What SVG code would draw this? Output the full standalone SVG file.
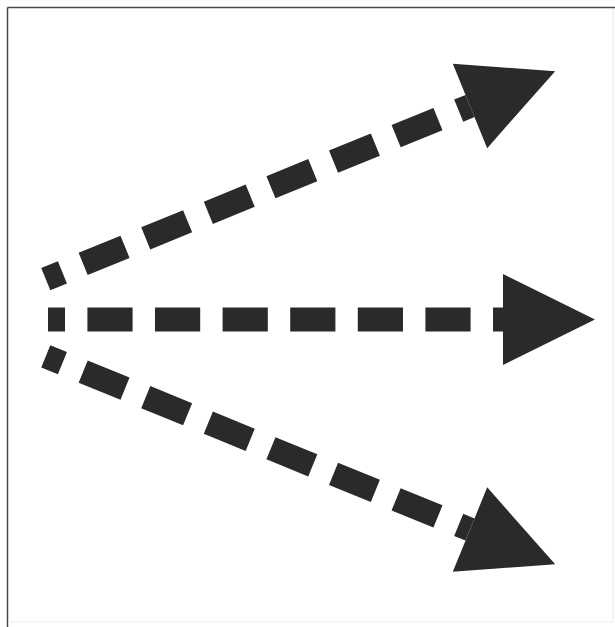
<svg xmlns="http://www.w3.org/2000/svg" width="615" height="627" viewBox="0 0 615 627">
  <defs>
    <style>
      .shaft { fill: none; stroke: #2a2a2a; stroke-width: 24; stroke-dasharray: 45.2 22.4; }
      .head { fill: #2a2a2a; }
    </style>
    <polygon id="arrowhead" class="head" points="0,-45.5 92,0 0,45.5"/>
  </defs>
  <rect x="0" y="0" width="615" height="627" fill="#ffffff"/>
  <g id="frame">
    <line x1="7.5" y1="7.5" x2="615" y2="7.5" stroke="#4a4a4a" stroke-width="1.5"/>
    <line x1="7.5" y1="7.5" x2="7.5" y2="627" stroke="#4a4a4a" stroke-width="1.5"/>
    <line x1="613" y1="9" x2="613" y2="622" stroke="#e6e6e6" stroke-width="1"/>
    <line x1="8" y1="622" x2="613" y2="622" stroke="#eeeeee" stroke-width="1"/>
  </g>
  <g id="connectors">
    <g id="arrow-top" transform="translate(470,106) rotate(-22.2)">
      <path class="shaft" d="M -458.2 0 H 0" stroke-dashoffset="27.2"/>
      <use href="#arrowhead"/>
    </g>
    <g id="arrow-middle" transform="translate(503,319.5)">
      <path class="shaft" d="M -455 0 H 0" stroke-dashoffset="28.2"/>
      <use href="#arrowhead"/>
    </g>
    <g id="arrow-bottom" transform="translate(470,529.5) rotate(22.2)">
      <path class="shaft" d="M -458.2 0 H 0" stroke-dashoffset="27.2"/>
      <use href="#arrowhead"/>
    </g>
  </g>
</svg>
